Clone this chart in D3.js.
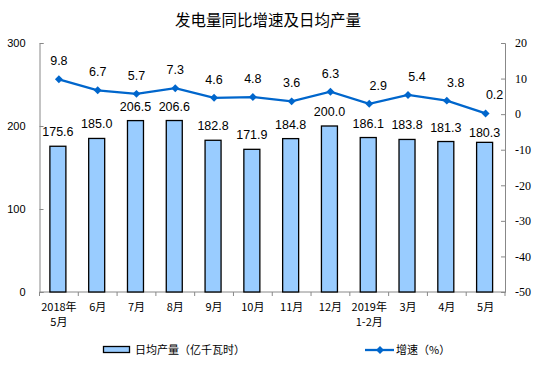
<!DOCTYPE html>
<html>
<head>
<meta charset="utf-8">
<script src="https://cdn.jsdelivr.net/npm/d3@7"></script>
<style>
  body { margin: 0; background: #fff; }
  svg { display: block; }
  .axis path, .axis line { stroke: #888; }
</style>
</head>
<body>
<div id="chart"></div>
<script>
(function(){

    // data
    var months = ["2018年\n5月", "6月", "7月", "8月", "9月", "10月", "11月", "12月", "2019年\n1-2月", "3月", "4月", "5月"];
    var daily = [175.6, 185.0, 206.5, 206.6, 182.8, 171.9, 184.8, 200.0, 186.1, 183.8, 181.3, 180.3];
    var growth = [9.8, 6.7, 5.7, 7.3, 4.6, 4.8, 3.6, 6.3, 2.9, 5.4, 3.8, 0.2];
    var leftTicks = [0, 100, 200, 300];
    var rightTicks = [20, 10, 0, -10, -20, -30, -40, -50];

    var W = 559, H = 385;
    var left = 39.5, right = 505, top = 43, bottom = 292;

    var svg = d3.select("#chart").append("svg")
      .attr("width", W)
      .attr("height", H);

    var x = d3.scaleBand().domain(d3.range(months.length)).range([left, right]);
    var y = d3.scaleLinear().domain([0, 300]).range([bottom, top]);
    var y2 = d3.scaleLinear().domain([-50, 20]).range([bottom, top]);

    var numFont = "'Liberation Sans', Arial, sans-serif";
    var cjkFont = "'Noto Sans CJK SC', sans-serif";

    // title
    svg.append("text")
      .attr("x", 268).attr("y", 26)
      .attr("text-anchor", "middle")
      .style("font-family", cjkFont)
      .style("font-size", "15.5px")
      .text("发电量同比增速及日均产量");

    // left axis
    var gl = svg.append("g").attr("class", "axis")
      .attr("transform", "translate(" + left + ",0)")
      .call(d3.axisRight(y).tickValues(leftTicks).tickSize(4).tickSizeOuter(4).tickFormat(function(d) { return String(d); }));
    gl.selectAll("text")
      .attr("x", -14).attr("text-anchor", "end")
      .style("font-family", numFont).style("font-size", "11px").attr("fill", "#000");

    // right axis
    var gr = svg.append("g").attr("class", "axis")
      .attr("transform", "translate(" + right + ",0)")
      .call(d3.axisLeft(y2).tickValues(rightTicks).tickSize(4).tickSizeOuter(4).tickFormat(function(d) { return String(d); }));
    gr.selectAll("text")
      .attr("x", 10).attr("text-anchor", "start")
      .style("font-family", "'Liberation Serif', 'Times New Roman', serif").style("font-size", "12px").attr("fill", "#000");

    // bottom axis, ticks between bands
    var gb = svg.append("g").attr("class", "axis")
      .attr("transform", "translate(0," + bottom + ")");
    gb.append("line").attr("x1", left).attr("x2", right).attr("y1", 0).attr("y2", 0);
    gb.selectAll(".sep").data(d3.range(months.length + 1)).enter().append("line")
      .attr("x1", function(i) { return left + i * x.step(); })
      .attr("x2", function(i) { return left + i * x.step(); })
      .attr("y1", 0).attr("y2", 4);

    var xl = svg.append("g").selectAll("text").data(months).enter().append("text")
      .attr("text-anchor", "middle")
      .attr("transform", function(d, i) { return "translate(" + (x(i) + x.bandwidth() / 2) + "," + (bottom + 19) + ")"; })
      .style("font-family", cjkFont).style("font-size", "11px");
    xl.each(function(d) {
        var t = d3.select(this);
        d.split("\n").forEach(function(s, k) {
            t.append("tspan").attr("x", 0).attr("y", k * 15).text(s);
        });
    });

    // bars
    var bw = 16;
    svg.append("g").selectAll("rect").data(daily).enter().append("rect")
      .attr("x", function(d, i) { return x(i) + x.bandwidth() / 2 - bw / 2 - 1; })
      .attr("width", bw)
      .attr("y", function(d) { return y(d); })
      .attr("height", function(d) { return bottom - y(d); })
      .attr("fill", "#99ccff")
      .attr("stroke", "#000")
      .attr("stroke-width", 1.3);

    svg.append("g").selectAll("text").data(daily).enter().append("text")
      .attr("x", function(d, i) { return x(i) + x.bandwidth() / 2 - 1; })
      .attr("y", function(d, i) { return y(d) - (i == daily.length - 1 ? 5 : 10); })
      .attr("text-anchor", "middle")
      .style("font-family", numFont).style("font-size", "12.5px")
      .text(function(d) { return d.toFixed(1); });

    // growth line
    var cx = function(d, i) { return x(i) + x.bandwidth() / 2; };
    var line = d3.line()
      .x(function(d, i) { return cx(d, i); })
      .y(function(d) { return y2(d); });

    svg.append("path")
      .datum(growth)
      .attr("d", line)
      .attr("fill", "none")
      .attr("stroke", "#0066cc")
      .attr("stroke-width", 2.3);

    var diamond = d3.symbol().type(d3.symbolDiamond2).size(40);
    svg.append("g").selectAll("path").data(growth).enter().append("path")
      .attr("d", diamond)
      .attr("transform", function(d, i) { return "translate(" + cx(d, i) + "," + y2(d) + ")"; })
      .attr("fill", "#0066cc");

    svg.append("g").selectAll("text").data(growth).enter().append("text")
      .attr("x", function(d, i) { return cx(d, i) + (i >= 8 ? 9 : 0); })
      .attr("y", function(d) { return y2(d) - 14; })
      .attr("text-anchor", "middle")
      .style("font-family", numFont).style("font-size", "12.5px")
      .text(function(d) { return d.toFixed(1); });

    // legend
    var lg = svg.append("g");
    lg.append("rect")
      .attr("x", 103.5).attr("y", 346.5).attr("width", 26).attr("height", 6)
      .attr("fill", "#99ccff").attr("stroke", "#000").attr("stroke-width", 1.3);
    lg.append("text")
      .attr("x", 135).attr("y", 354)
      .style("font-family", cjkFont).style("font-size", "11px")
      .text("日均产量（亿千瓦时）");
    lg.append("line")
      .attr("x1", 365).attr("x2", 394).attr("y1", 350).attr("y2", 350)
      .attr("stroke", "#0066cc").attr("stroke-width", 2.3);
    lg.append("path")
      .attr("d", diamond)
      .attr("transform", "translate(380,350)")
      .attr("fill", "#0066cc");
    lg.append("text")
      .attr("x", 396).attr("y", 354)
      .style("font-family", cjkFont).style("font-size", "11px")
      .text("增速（%）");

})();
</script>
</body>
</html>
